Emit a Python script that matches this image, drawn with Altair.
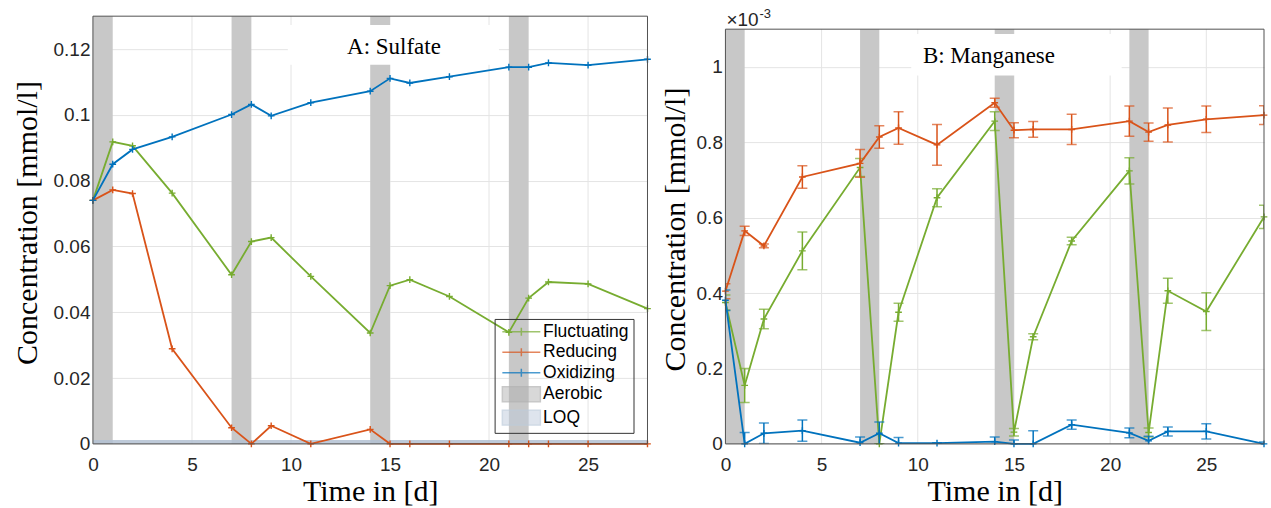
import altair as alt
import pandas as pd

# ---------------- data ----------------
days = [0, 1, 2, 4, 7, 8, 9, 11, 14, 15, 16, 18, 21, 22, 23, 25, 28]
series_names = ["Fluctuating", "Reducing", "Oxidizing"]
series_colors = ["#77AC30", "#D95319", "#0072BD"]

# Panel A: sulfate [mmol/l]
sulf_fluct = [0.0740, 0.0918, 0.0906, 0.0762, 0.0514, 0.0615, 0.0627, 0.0509, 0.0337,
              0.0481, 0.0499, 0.0448, 0.0339, 0.0443, 0.0492, 0.0486, 0.0411]
sulf_red = [0.0740, 0.0772, 0.0761, 0.0289, 0.0049, 0.0, 0.0055, 0.0, 0.0044,
            0.0, 0.0, 0.0, 0.0, 0.0, 0.0, 0.0, 0.0]
sulf_oxid = [0.0740, 0.0850, 0.0895, 0.0933, 0.1001, 0.1032, 0.0997, 0.1037, 0.1072,
             0.1111, 0.1097, 0.1116, 0.1145, 0.1145, 0.1158, 0.1151, 0.1169]

# Panel B: manganese [x1e-3 mmol/l]
mn_fluct = [0.375, 0.155, 0.331, 0.512, 0.733, 0.0, 0.349, 0.653, 0.856,
            0.031, 0.284, 0.538, 0.724, 0.030, 0.406, 0.351, 0.602]
mn_fluct_err = [0.020, 0.045, 0.026, 0.050, 0.024, 0.0, 0.024, 0.024, 0.025,
                0.010, 0.008, 0.010, 0.035, 0.012, 0.033, 0.050, 0.031]
mn_red = [0.405, 0.565, 0.525, 0.708, 0.744, 0.814, 0.838, 0.793, 0.905,
          0.832, 0.834, 0.834, 0.856, 0.827, 0.846, 0.861, 0.872]
mn_red_err = [0.020, 0.012, 0.005, 0.030, 0.037, 0.030, 0.043, 0.054, 0.012,
              0.020, 0.021, 0.040, 0.040, 0.024, 0.045, 0.035, 0.025]
mn_oxid = [0.381, 0.0, 0.028, 0.035, 0.003, 0.028, 0.002, 0.002, 0.006,
           0.0, 0.0, 0.051, 0.029, 0.008, 0.033, 0.033, 0.0]
mn_oxid_err = [0.027, 0.030, 0.027, 0.028, 0.015, 0.030, 0.015, 0.0, 0.012,
               0.010, 0.035, 0.012, 0.013, 0.012, 0.012, 0.020, 0.005]

aerobic_start = [0, 7, 14, 21]
aerobic_end = [1, 8, 15, 22]
loq_sulfate = 0.0012

x_ticks = [0, 5, 10, 15, 20, 25]
x_grid = [5, 10, 15, 20, 25]
sulf_y_ticks = [0, 0.02, 0.04, 0.06, 0.08, 0.1, 0.12]
mn_y_ticks = [0, 0.2, 0.4, 0.6, 0.8, 1.0]

legend_names = ["Fluctuating", "Reducing", "Oxidizing", "Aerobic", "LOQ"]
legend_colors = ["#77AC30", "#D95319", "#0072BD", "#b1b1b1", "#bdcbdb"]

# ---------------- styles ----------------
SANS = "Liberation Sans"
SERIF = "Liberation Serif"
GRID = "#e4e4e4"
BAND = "#c8c8c8"
LOQ_COLOR = "#b3c1d2"
FRAME = "#505050"
LBL = "#262626"
CROSS = "M-1,0H1M0,-1V1"
LINE_SYM = "M-3.8,0H3.8M0,-0.8V0.8"
PATCH_SYM = "M-3.8,-1.5H3.8V1.5H-3.8Z"

W_L, W_R, H = 555, 539, 428

X_TITLE = "Time in [d]"
Y_TITLE = "Concentration [mmol/l]"


def make_x_axis():
    return alt.Axis(values=x_ticks, grid=False, domain=False, ticks=False, tickSize=0,
                    labelFont=SANS, labelFontSize=19, labelColor=LBL, labelPadding=12,
                    labelFlush=False, labelOverlap=False,
                    titleFont=SERIF, titleFontSize=30, titleFontWeight="normal",
                    titleColor="black", titleY=57, titleBaseline="alphabetic")


def panel(yvals_list, yscale, ytop, yaxis, err_list=None, width=W_L,
          title_txt="", title_box=None, title_pos=None, loq=None, sup=False, legend=False):
    xs = alt.Scale(domain=[0, 28], nice=False, zero=False)
    ax_x = make_x_axis()

    def X(field):
        return alt.X(field, type="quantitative", scale=xs, axis=ax_x, title=X_TITLE)

    def XD(v):
        return alt.XDatum(v, type="quantitative", scale=xs, axis=ax_x, title=X_TITLE)

    def Y(field):
        return alt.Y(field, type="quantitative", scale=yscale, axis=yaxis, title=Y_TITLE)

    def YD(v):
        return alt.YDatum(v, type="quantitative", scale=yscale, axis=yaxis, title=Y_TITLE)

    layers = []
    band_df = pd.DataFrame({"start": aerobic_start, "end": aerobic_end})
    grid_df = pd.DataFrame({"g": x_grid})
    layers.append(alt.Chart(grid_df).mark_rule(color=GRID, strokeWidth=1).encode(
        x=X("g"), y=YD(0), y2=alt.Y2Datum(ytop)))
    layers.append(alt.Chart(band_df).mark_rect(color=BAND).encode(
        x=X("start"), x2=alt.X2("end"), y=YD(0), y2=alt.Y2Datum(ytop)))
    if loq is not None:
        layers.append(alt.Chart(pd.DataFrame({"a": [0]})).mark_rect(color=LOQ_COLOR, opacity=0.85).encode(
            x=XD(0), x2=alt.X2Datum(28), y=YD(0), y2=alt.Y2Datum(loq)))
    bx0, bx1, by0, by1 = title_box
    layers.append(alt.Chart(pd.DataFrame({"a": [0]})).mark_rect(color="white").encode(
        x=XD(bx0), x2=alt.X2Datum(bx1), y=YD(by0), y2=alt.Y2Datum(by1)))
    tx, ty = title_pos
    layers.append(alt.Chart(pd.DataFrame({"a": [0]})).mark_text(
        text=title_txt, font=SERIF, fontSize=23, align="center", baseline="alphabetic",
        color="black").encode(x=XD(tx), y=YD(ty)))

    for i, (name, color) in enumerate(zip(series_names, series_colors)):
        df = pd.DataFrame({"day": days, "v": yvals_list[i]})
        if err_list is not None:
            df["e"] = err_list[i]
            base = alt.Chart(df).transform_calculate(lo="datum.v - datum.e", hi="datum.v + datum.e")
            layers.append(base.mark_rule(color=color, strokeWidth=1.5, clip=True).encode(
                x=X("day"), y=Y("lo"), y2=alt.Y2("hi")))
            layers.append(base.mark_tick(color=color, orient="horizontal", size=10, thickness=1.5,
                                         clip=True).encode(x=X("day"), y=Y("lo")))
            layers.append(base.mark_tick(color=color, orient="horizontal", size=10, thickness=1.5,
                                         clip=True).encode(x=X("day"), y=Y("hi")))
        layers.append(alt.Chart(df).mark_line(color=color, strokeWidth=1.8).encode(
            x=X("day"), y=Y("v")))
        layers.append(alt.Chart(df).mark_point(shape=CROSS, size=45, filled=False, color=color,
                                               strokeWidth=1.4, opacity=1).encode(
            x=X("day"), y=Y("v")))

    layers.append(alt.Chart(pd.DataFrame({"a": [0]})).mark_rect(
        fillOpacity=0, stroke=FRAME, strokeWidth=1).encode(
        x=XD(0), x2=alt.X2Datum(28), y=YD(0), y2=alt.Y2Datum(ytop)))

    if sup:
        layers.append(alt.Chart(pd.DataFrame({"a": [0]})).mark_text(
            text="×10", font=SANS, fontSize=19, align="left", baseline="alphabetic",
            color=LBL, dx=1, dy=-3).encode(x=XD(0), y=YD(ytop)))
        layers.append(alt.Chart(pd.DataFrame({"a": [0]})).mark_text(
            text="-3", font=SANS, fontSize=13, align="left", baseline="alphabetic",
            color=LBL, dx=34, dy=-11).encode(x=XD(0), y=YD(ytop)))

    if legend:
        leg = alt.Legend(title=None, orient="none", legendX=402, legendY=303,
                         labelFont=SANS, labelFontSize=17.5, labelColor="black",
                         labelOffset=13, symbolOffset=14, symbolSize=100, symbolStrokeWidth=1.5,
                         rowPadding=1.5, padding=4, strokeColor="#333333")
        ldf = pd.DataFrame({"entry": legend_names})
        layers.append(alt.Chart(ldf).transform_filter("false").mark_point(filled=True).encode(
            fill=alt.Fill("entry:N", scale=alt.Scale(domain=legend_names, range=legend_colors), legend=leg),
            stroke=alt.Stroke("entry:N", scale=alt.Scale(domain=legend_names, range=legend_colors), legend=leg),
            shape=alt.Shape("entry:N", scale=alt.Scale(domain=legend_names,
                                                       range=[LINE_SYM] * 3 + [PATCH_SYM] * 2), legend=leg),
        ))

    return alt.layer(*layers).properties(width=width, height=H)


ax_yL = alt.Axis(values=sulf_y_ticks, format="~g", grid=True, gridColor=GRID, domain=False,
                 ticks=False, tickSize=0, labelFont=SANS, labelFontSize=19, labelColor=LBL,
                 labelPadding=3, labelFlush=False, labelOverlap=False,
                 titleFont=SERIF, titleFontSize=30, titleFontWeight="normal", titleColor="black",
                 titleX=-65.5, titleY=206.5, titleAngle=-90, titleAlign="center",
                 titleBaseline="middle")
ax_yR = alt.Axis(values=mn_y_ticks, format="~g", grid=True, gridColor=GRID, domain=False,
                 ticks=False, tickSize=0, labelFont=SANS, labelFontSize=19, labelColor=LBL,
                 labelPadding=3, labelFlush=False, labelOverlap=False,
                 titleFont=SERIF, titleFontSize=30, titleFontWeight="normal", titleColor="black",
                 titleX=-50, titleY=213, titleAngle=-90, titleAlign="center",
                 titleBaseline="middle")

left = panel([sulf_fluct, sulf_red, sulf_oxid],
             alt.Scale(domain=[0, 0.13], nice=False, zero=False), 0.13, ax_yL,
             width=W_L, title_txt="A: Sulfate", title_box=(9.84, 20.5, 0.1152, 0.1273),
             title_pos=(15.2, 0.1186), loq=loq_sulfate, legend=True)

right = panel([mn_fluct, mn_red, mn_oxid],
              alt.Scale(domain=[0, 1.1], range=[H, 13], nice=False, zero=False), 1.1, ax_yR,
              err_list=[mn_fluct_err, mn_red_err, mn_oxid_err],
              width=W_R, title_txt="B: Manganese", title_box=(9.66, 20.6, 0.977, 1.087),
              title_pos=(13.7, 1.0106), sup=True)

chart = alt.hconcat(left, right, spacing=78, bounds="flush").properties(
    padding={"left": 12, "top": 8, "right": 0, "bottom": 0},
    background="white",
).configure_view(stroke=None)

chart.save("out.html", embed_options={"renderer": "svg", "actions": False})
